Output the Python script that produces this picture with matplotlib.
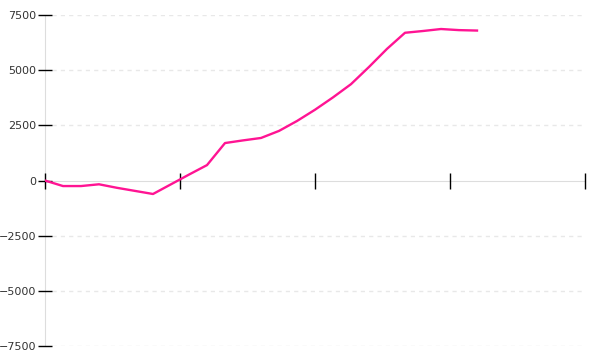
import matplotlib
matplotlib.use('Agg')
import matplotlib.pyplot as plt

# series, one value per step (x axis runs 0..30)
steps = list(range(25))
values = [0, -250, -250, -170, -330, -470, -610, -170, 270, 700,
          1700, 1820, 1930, 2250, 2700, 3210, 3770, 4370, 5150, 5970,
          6700, 6780, 6870, 6820, 6800]

y_ticks = [-7500, -5000, -2500, 0, 2500, 5000, 7500]
x_ticks = [0, 7.5, 15, 22.5, 30]

fig = plt.figure(figsize=(6, 3.6), dpi=100)
ax = fig.add_axes([0.075, 0.039, 0.9, 0.919])

# dashed grid, the zero line is drawn by the bottom spine
for yv in y_ticks:
    if yv != 0:
        ax.axhline(yv, xmin=0.013, color='#e8e8e8', lw=1, ls=(0, (3, 3)), zorder=0)

ax.plot(steps, values, color='#ff1493', lw=1.7, zorder=3)

ax.set_xlim(0, 30)
ax.set_ylim(-7500, 7500)
ax.set_xticks(x_ticks)
ax.set_xticklabels([])
ax.set_yticks(y_ticks)
ax.set_yticklabels([str(v).replace('-', '\u2212') for v in y_ticks])

ax.spines['top'].set_visible(False)
ax.spines['right'].set_visible(False)
ax.spines['bottom'].set_position(('data', 0))
ax.spines['bottom'].set_color('#dddddd')
ax.spines['left'].set_color('#dddddd')
ax.spines['bottom'].set_zorder(1)
ax.spines['left'].set_zorder(1)

ax.tick_params(axis='y', direction='inout', length=10, width=1, color='black',
               labelsize=8, labelcolor='#333333', pad=1)
ax.tick_params(axis='x', direction='inout', length=12, width=1, color='black')

fig.savefig('out.png', dpi=100)
